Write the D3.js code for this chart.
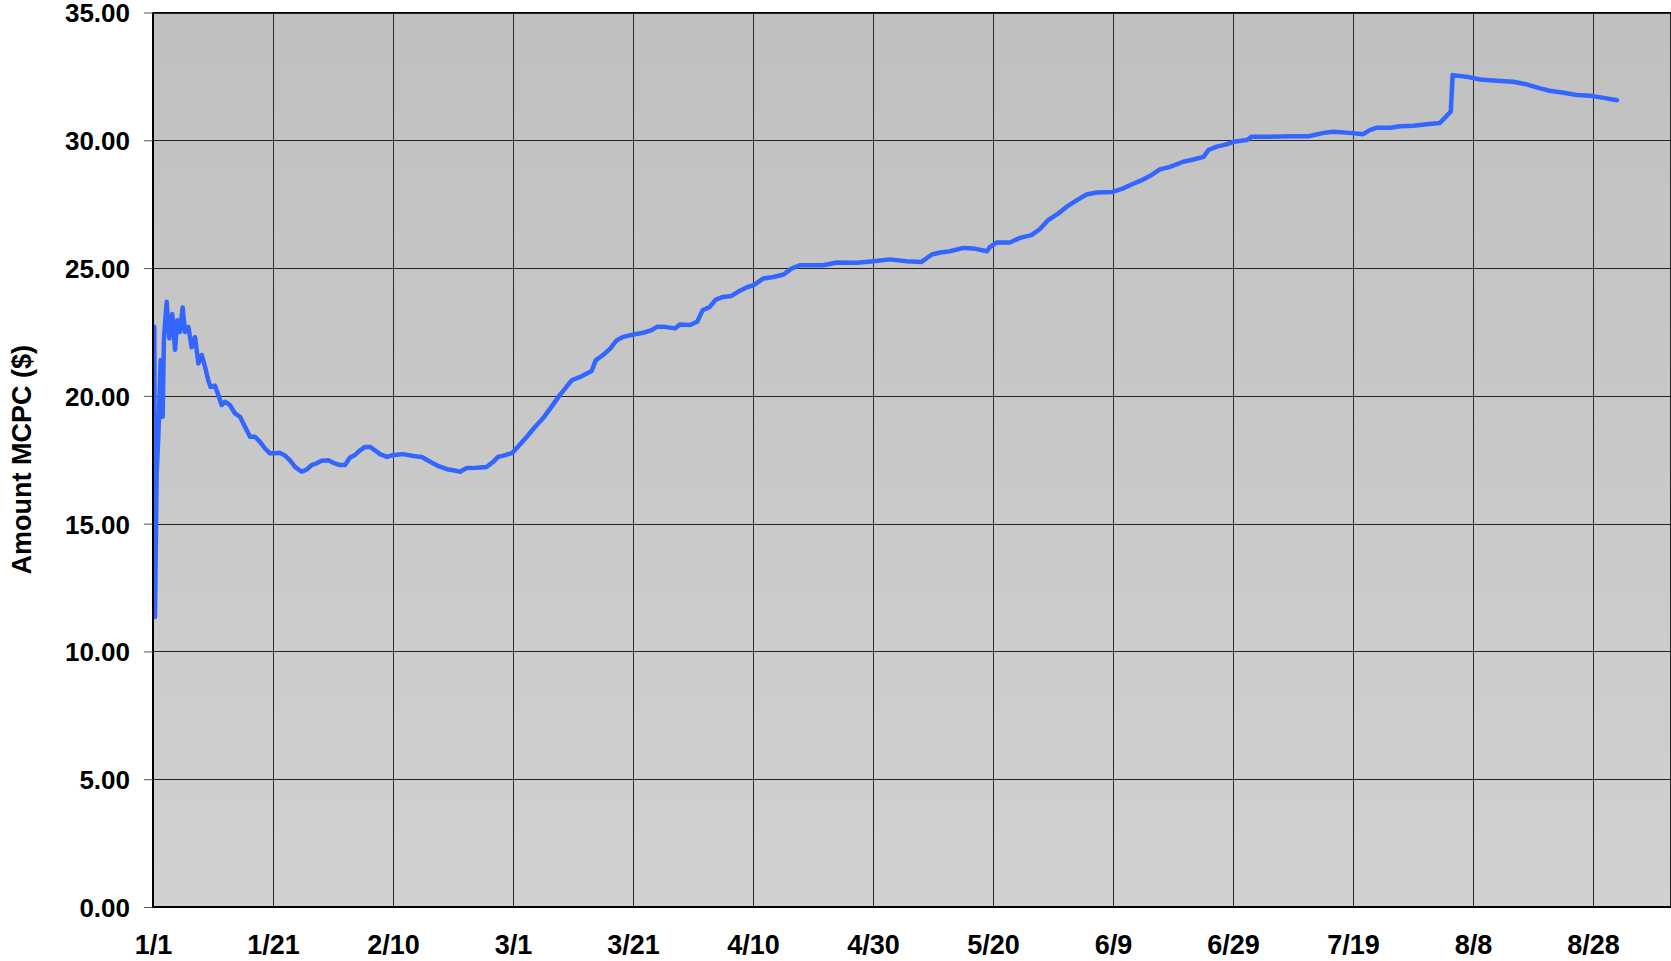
<!DOCTYPE html>
<html>
<head>
<meta charset="utf-8">
<script src="https://cdn.jsdelivr.net/npm/d3@7"></script>
<style>
  html, body { margin: 0; padding: 0; background: #fff; }
  svg text { font-family: "Liberation Sans", Arial, sans-serif; font-weight: bold; fill: #000; }
</style>
</head>
<body>
<div id="chart"></div>
<script>
// Values (x = days since 1/1, y = MCPC in $)
const days = [
  0.22, 0.33, 0.61, 0.89, 1.28, 1.61, 1.83, 2.28, 2.72, 3.22, 3.67, 4.06, 4.5, 4.94, 5.33, 5.89,
  6.44, 7.0, 7.56, 8.11, 8.67, 9.22, 9.61, 10.33, 10.89, 11.44, 12.0, 12.83, 13.67, 14.5, 15.33,
  16.17, 17.0, 17.83, 18.67, 19.5, 20.33, 21.17, 22.0, 22.83, 23.67, 24.78, 25.61, 26.44, 27.28,
  28.11, 29.22, 30.06, 31.17, 32.0, 32.83, 33.67, 34.5, 35.33, 36.17, 37.0, 37.83, 39.0, 40.1,
  41.7, 43.4, 44.8, 46.2, 47.6, 49.0, 50.0, 51.2, 52.3, 53.9, 55.6, 56.7, 57.5, 58.7, 59.9,
  60.9, 62.3, 63.7, 65.1, 66.4, 67.8, 68.9, 69.8, 71.2, 73.1, 73.8, 75.0, 76.2, 77.3, 78.4,
  80.1, 81.7, 83.1, 84.0, 85.3, 87.0, 87.8, 89.5, 90.7, 91.6, 92.8, 93.8, 95.0, 96.4, 97.5,
  98.9, 100.1, 101.7, 103.4, 105.1, 106.4, 107.8, 109.5, 111.7, 114.0, 117.3, 120.1, 122.8,
  125.6, 128.1, 129.8, 131.2, 132.8, 135.1, 136.7, 139.0, 139.5, 140.6, 142.8, 144.5, 146.4,
  147.8, 149.2, 150.9, 152.3, 154.0, 155.6, 157.3, 159.9, 161.7, 163.1, 164.8, 166.2, 167.8,
  169.5, 171.7, 173.4, 175.1, 175.9, 177.3, 178.9, 180.1, 182.3, 183.1, 186.2, 189.5, 192.6,
  195.1, 196.7, 199.5, 201.7, 202.8, 203.9, 206.2, 207.8, 210.1, 212.3, 214.5, 215.6, 216.3,
  216.6, 218.9, 221.2, 223.9, 226.7, 228.9, 231.2, 232.8, 235.1, 237.3, 239.5, 241.8, 244.0
];
const mcpc = [
  22.7, 11.35, 16.96, 18.4, 21.4, 19.18, 22.3, 23.68, 22.25, 23.2, 21.8, 22.96, 22.5, 23.46, 22.5, 22.7,
  21.9, 22.3, 21.27, 21.6, 21.14, 20.6, 20.35, 20.4, 20.03, 19.64, 19.77, 19.64, 19.31, 19.18, 18.79,
  18.4, 18.4, 18.2, 17.94, 17.75, 17.75, 17.77, 17.66, 17.48, 17.22, 17.03, 17.12, 17.29, 17.36,
  17.46, 17.48, 17.38, 17.29, 17.29, 17.59, 17.69, 17.87, 18.0, 18.0, 17.87, 17.72, 17.61, 17.69,
  17.72, 17.65, 17.61, 17.42, 17.25, 17.13, 17.09, 17.03, 17.18, 17.19, 17.22, 17.42, 17.61, 17.68, 17.77,
  18.03, 18.4, 18.79, 19.15, 19.57, 20.03, 20.35, 20.61, 20.74, 20.97, 21.4, 21.59, 21.85, 22.18, 22.31,
  22.4, 22.47, 22.57, 22.7, 22.7, 22.64, 22.79, 22.77, 22.9, 23.35, 23.48, 23.77, 23.87, 23.91, 24.07,
  24.24, 24.33, 24.59, 24.65, 24.75, 24.98, 25.11, 25.11, 25.11, 25.22, 25.21, 25.27, 25.34,
  25.27, 25.24, 25.53, 25.61, 25.66, 25.79, 25.77, 25.66, 25.83, 26.0, 26.0, 26.18, 26.29,
  26.52, 26.88, 27.14, 27.4, 27.66, 27.88, 27.96, 27.98, 28.12, 28.27, 28.44, 28.61, 28.86,
  28.96, 29.16, 29.25, 29.35, 29.62, 29.75, 29.84, 29.94, 30.01, 30.14, 30.14, 30.16, 30.16,
  30.29, 30.33, 30.29, 30.24, 30.4, 30.49, 30.49, 30.55, 30.57, 30.63, 30.68, 30.95, 31.12,
  32.55, 32.49, 32.38, 32.33, 32.29, 32.19, 32.03, 31.94, 31.86, 31.77, 31.74, 31.66, 31.57
];
const xTickLabels = ['1/1', '1/21', '2/10', '3/1', '3/21', '4/10', '4/30', '5/20', '6/9', '6/29', '7/19', '8/8', '8/28'];
const yTicks = [0, 5, 10, 15, 20, 25, 30, 35];
const yTitle = 'Amount MCPC ($)';

const W = 1671, H = 961;
const plot = {left: 153, right: 1671, top: 12.5, bottom: 907};

const start = Date.UTC(2008, 0, 1);
const toDate = d => new Date(start + d * 864e5);
const parseTick = s => { const [m, d] = s.split('/').map(Number); return new Date(Date.UTC(2008, m - 1, d)); };

const data = days.map((d, i) => ({date: toDate(d), value: mcpc[i]}));

const x = d3.scaleUtc()
    .domain([toDate(0), toDate(253)])
    .range([plot.left, plot.right]);

const y = d3.scaleLinear()
    .domain([0, 35])
    .range([plot.bottom, plot.top]);

const svg = d3.select('#chart').append('svg')
    .attr('width', W)
    .attr('height', H);

// plot background gradient
const grad = svg.append('defs').append('linearGradient')
    .attr('id', 'bg').attr('x1', 0).attr('y1', 0).attr('x2', 0).attr('y2', 1);
grad.append('stop').attr('offset', '0%').attr('stop-color', '#c0c0c0');
grad.append('stop').attr('offset', '100%').attr('stop-color', '#d1d1d1');

svg.append('rect')
    .attr('x', plot.left).attr('y', plot.top)
    .attr('width', plot.right - plot.left).attr('height', plot.bottom - plot.top)
    .attr('fill', 'url(#bg)');

// grid lines
const tickDates = xTickLabels.map(parseTick);
svg.append('g').selectAll('line.vg')
    .data(tickDates.slice(1)).enter().append('line')
    .attr('x1', d => Math.round(x(d)) + 0.5).attr('x2', d => Math.round(x(d)) + 0.5)
    .attr('y1', plot.top).attr('y2', plot.bottom)
    .attr('stroke', '#2b2b2b').attr('stroke-width', 1);

svg.append('g').selectAll('line.hg')
    .data(yTicks.slice(1)).enter().append('line')
    .attr('x1', plot.left).attr('x2', plot.right)
    .attr('y1', d => Math.round(y(d)) + 0.5).attr('y2', d => Math.round(y(d)) + 0.5)
    .attr('stroke', '#222').attr('stroke-width', 1);

// right border
svg.append('line')
    .attr('x1', plot.right - 0.5).attr('x2', plot.right - 0.5)
    .attr('y1', plot.top).attr('y2', plot.bottom)
    .attr('stroke', '#222');

// the series
const line = d3.line()
    .x(d => x(d.date))
    .y(d => y(d.value));

svg.append('path')
    .datum(data)
    .attr('fill', 'none')
    .attr('stroke', '#3366ff')
    .attr('stroke-width', 4.5)
    .attr('stroke-linejoin', 'round')
    .attr('stroke-linecap', 'round')
    .attr('d', line);

// Y axis
const yAxis = d3.axisLeft(y)
    .tickValues(yTicks)
    .tickFormat(d3.format('.2f'))
    .tickSizeInner(9)
    .tickSizeOuter(0)
    .tickPadding(14);

const gY = svg.append('g')
    .attr('transform', 'translate(' + plot.left + ',0)')
    .call(yAxis);
gY.select('.domain').remove();
gY.selectAll('.tick line').attr('stroke', '#555');
gY.selectAll('.tick text')
    .style('font-size', '26px')
    .attr('fill', '#000')
    .attr('dy', '0.36em');

// X axis
const xAxis = d3.axisBottom(x)
    .tickValues(tickDates)
    .tickFormat((d, i) => xTickLabels[i])
    .tickSize(0);

const gX = svg.append('g')
    .attr('transform', 'translate(0,' + plot.bottom + ')')
    .call(xAxis);
gX.select('.domain').remove();
gX.selectAll('.tick text')
    .style('font-size', '27px')
    .attr('fill', '#000')
    .attr('y', 47)
    .attr('dy', null);

// axis lines (thick, left and bottom), thin top
svg.append('line')
    .attr('x1', plot.left).attr('x2', plot.left)
    .attr('y1', plot.top).attr('y2', plot.bottom + 1)
    .attr('stroke', '#000').attr('stroke-width', 2);
svg.append('line')
    .attr('x1', plot.left - 1).attr('x2', plot.right)
    .attr('y1', plot.bottom).attr('y2', plot.bottom)
    .attr('stroke', '#000').attr('stroke-width', 2);
svg.append('line')
    .attr('x1', plot.left).attr('x2', plot.right)
    .attr('y1', plot.top).attr('y2', plot.top)
    .attr('stroke', '#000').attr('stroke-width', 1);

// Y axis title
svg.append('text')
    .attr('transform', 'translate(31,' + ((plot.top + plot.bottom) / 2) + ') rotate(-90)')
    .attr('text-anchor', 'middle')
    .style('font-size', '27px')
    .text(yTitle);
</script>
</body>
</html>
